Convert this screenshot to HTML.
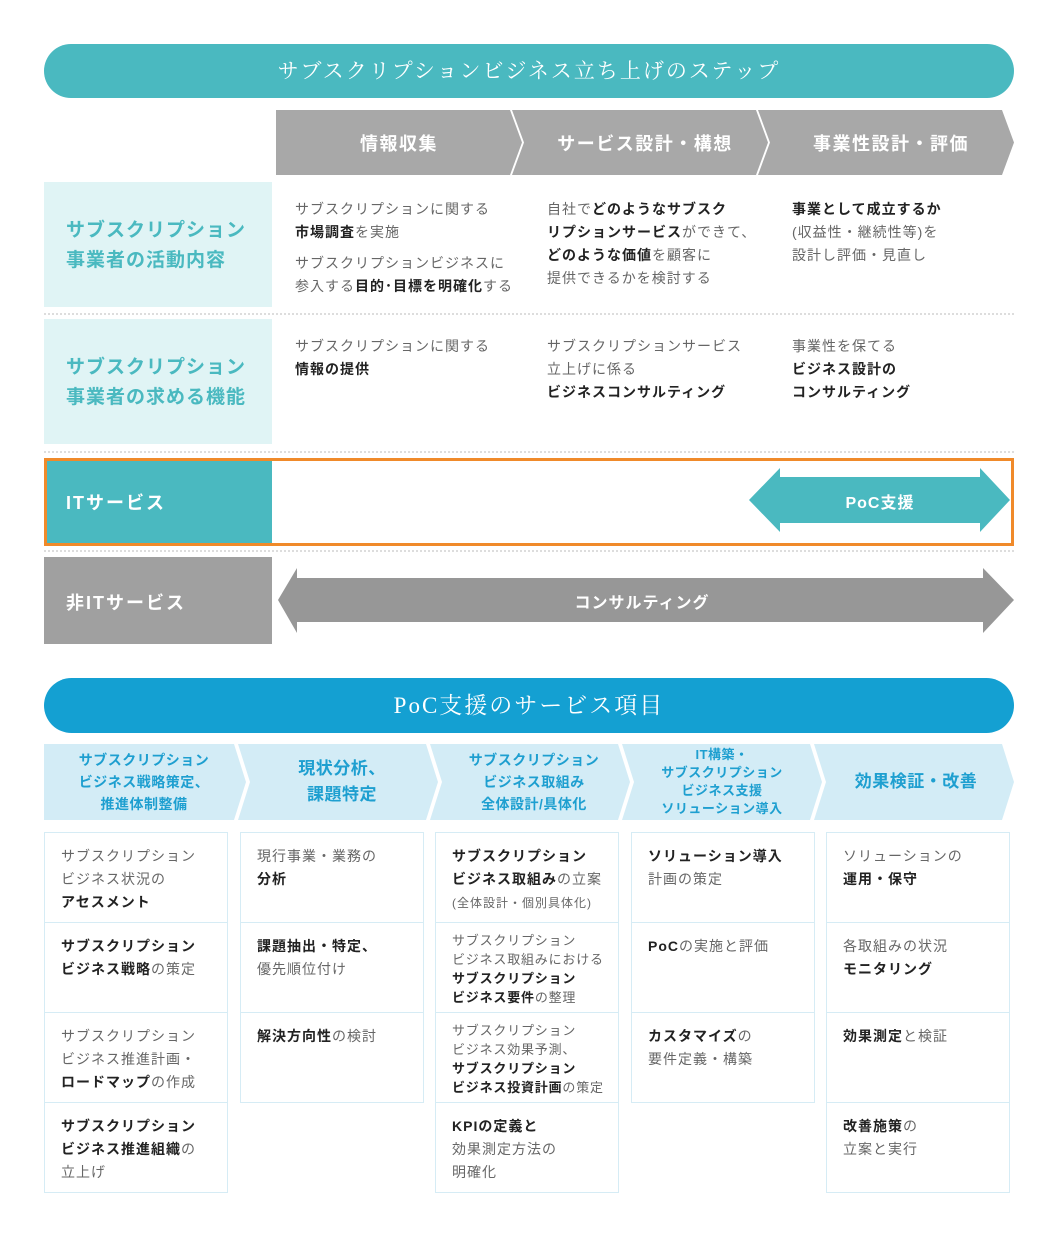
<!DOCTYPE html>
<html><head><meta charset="utf-8">
<style>
*{margin:0;padding:0;box-sizing:border-box}
body{width:1060px;height:1237px;background:#fff;position:relative;font-family:"Liberation Sans","Noto Sans CJK JP",sans-serif;color:#666;overflow:hidden}
.a{position:absolute}
.t{font-size:14px;line-height:23px;letter-spacing:1px;color:#666}
.t b{color:#222;font-weight:700}
.s{font-size:13px;line-height:19px;letter-spacing:.8px}
.card{position:absolute;border:1px solid #d6ecf5;background:#fff;padding:12px 0 0 16px;width:184px;height:91px}
.lab{position:absolute;font-weight:700;letter-spacing:2px}
.ch{position:absolute;color:#1e9fd0;font-weight:700;text-align:center;display:flex;align-items:center;justify-content:center;height:76px;top:744px;font-size:14px;line-height:22px;letter-spacing:.5px}
.dot{position:absolute;left:44px;width:970px;border-top:2px dotted #ddd}
</style></head><body>
<svg class="a" style="left:0;top:0" width="1060" height="1237">
<rect x="44" y="44" width="970" height="54" rx="27" fill="#4ab9c0"/>
<polygon points="276,110 510,110 522,142.5 510,175 276,175" fill="#a8a8a8"/>
<polygon points="512,110 756,110 768,142.5 756,175 512,175 524,142.5" fill="#a8a8a8"/>
<polygon points="758,110 1002,110 1014,142.5 1002,175 758,175 770,142.5" fill="#a8a8a8"/>
<rect x="44" y="182" width="228" height="125" fill="#e0f4f5"/>
<rect x="44" y="319" width="228" height="125" fill="#e0f4f5"/>
<rect x="45.5" y="459.5" width="967" height="85" fill="#fff" stroke="#f08a2a" stroke-width="3"/>
<rect x="47" y="461" width="225" height="82" fill="#4ab9c0"/>
<polygon points="749,500 780,468 780,477 980,477 980,468 1010,500 980,532 980,523 780,523 780,532" fill="#4ab9c0"/>
<rect x="44" y="557" width="228" height="87" fill="#a0a0a0"/>
<polygon points="278,600 297,568 297,578 983,578 983,568 1014,600 983,633 983,622 297,622 297,633" fill="#979797"/>
<rect x="44" y="678" width="970" height="55" rx="27.5" fill="#14a0d2"/>
<polygon points="44,744 234,744 246,782 234,820 44,820" fill="#d3ecf6"/>
<polygon points="238,744 426,744 438,782 426,820 238,820 250,782" fill="#d3ecf6"/>
<polygon points="430,744 618,744 630,782 618,820 430,820 442,782" fill="#d3ecf6"/>
<polygon points="622,744 810,744 822,782 810,820 622,820 634,782" fill="#d3ecf6"/>
<polygon points="814,744 1002,744 1014,782 1002,820 814,820 826,782" fill="#d3ecf6"/>
</svg>
<div class="dot" style="top:313px"></div>
<div class="dot" style="top:451px"></div>
<div class="dot" style="top:550px"></div>

<div class="a" style="left:44px;top:56px;width:970px;text-align:center;color:#fff;font-family:'Liberation Serif','Noto Serif CJK SC',serif;font-size:21px;letter-spacing:2px;line-height:30px">サブスクリプションビジネス立ち上げのステップ</div>
<div class="lab" style="left:276px;top:130px;width:246px;text-align:center;color:#fff;font-size:18px;letter-spacing:1.5px">情報収集</div>
<div class="lab" style="left:522px;top:130px;width:246px;text-align:center;color:#fff;font-size:18px;letter-spacing:1.5px">サービス設計・構想</div>
<div class="lab" style="left:768px;top:130px;width:246px;text-align:center;color:#fff;font-size:18px;letter-spacing:1.5px">事業性設計・評価</div>

<div class="lab" style="left:66px;top:216px;color:#4ab9c0;font-size:19px;line-height:30px;letter-spacing:1px">サブスクリプション<br>事業者の活動内容</div>
<div class="lab" style="left:66px;top:353px;color:#4ab9c0;font-size:19px;line-height:30px;letter-spacing:1px">サブスクリプション<br>事業者の求める機能</div>

<div class="a t" style="left:295px;top:198px">サブスクリプションに関する<br><b>市場調査</b>を実施</div>
<div class="a t" style="left:295px;top:252px">サブスクリプションビジネスに<br>参入する<b>目的･目標を明確化</b>する</div>
<div class="a t" style="left:547px;top:198px">自社で<b>どのようなサブスク<br>リプションサービス</b>ができて、<br><b>どのような価値</b>を顧客に<br>提供できるかを検討する</div>
<div class="a t" style="left:792px;top:198px"><b>事業として成立するか</b><br>(収益性・継続性等)を<br>設計し評価・見直し</div>

<div class="a t" style="left:295px;top:335px">サブスクリプションに関する<br><b>情報の提供</b></div>
<div class="a t" style="left:547px;top:335px">サブスクリプションサービス<br>立上げに係る<br><b>ビジネスコンサルティング</b></div>
<div class="a t" style="left:792px;top:335px">事業性を保てる<br><b>ビジネス設計の<br>コンサルティング</b></div>

<div class="lab" style="left:66px;top:489px;color:#fff;font-size:18px">ITサービス</div>
<div class="lab" style="left:780px;top:489px;width:200px;text-align:center;color:#fff;font-size:16px;letter-spacing:1px">PoC支援</div>
<div class="lab" style="left:66px;top:589px;color:#fff;font-size:18px">非ITサービス</div>
<div class="lab" style="left:297px;top:589px;width:690px;text-align:center;color:#fff;font-size:16px;letter-spacing:1px">コンサルティング</div>

<div class="a" style="left:44px;top:690px;width:970px;text-align:center;color:#fff;font-family:'Liberation Serif','Noto Serif CJK SC',serif;font-size:23px;letter-spacing:2px;line-height:32px">PoC支援のサービス項目</div>

<div class="ch" style="left:44px;width:200px">サブスクリプション<br>ビジネス戦略策定、<br>推進体制整備</div>
<div class="ch" style="left:244px;width:196px;font-size:17px;line-height:26px">現状分析、<br>課題特定</div>
<div class="ch" style="left:436px;width:196px">サブスクリプション<br>ビジネス取組み<br>全体設計/具体化</div>
<div class="ch" style="left:624px;width:196px;font-size:13px;line-height:18px">IT構築・<br>サブスクリプション<br>ビジネス支援<br>ソリューション導入</div>
<div class="ch" style="left:818px;width:196px;font-size:17px">効果検証・改善</div>

<div class="card t" style="left:44px;top:832px">サブスクリプション<br>ビジネス状況の<br><b>アセスメント</b></div>
<div class="card t" style="left:44px;top:922px"><b>サブスクリプション<br>ビジネス戦略</b>の策定</div>
<div class="card t" style="left:44px;top:1012px">サブスクリプション<br>ビジネス推進計画・<br><b>ロードマップ</b>の作成</div>
<div class="card t" style="left:44px;top:1102px"><b>サブスクリプション<br>ビジネス推進組織</b>の<br>立上げ</div>
<div class="card t" style="left:240px;top:832px">現行事業・業務の<br><b>分析</b></div>
<div class="card t" style="left:240px;top:922px"><b>課題抽出・特定、</b><br>優先順位付け</div>
<div class="card t" style="left:240px;top:1012px"><b>解決方向性</b>の検討</div>
<div class="card t" style="left:435px;top:832px"><b>サブスクリプション<br>ビジネス取組み</b>の立案<br><span style="font-size:12px">(全体設計・個別具体化)</span></div>
<div class="card t s" style="left:435px;top:922px;padding-top:8px">サブスクリプション<br>ビジネス取組みにおける<br><b>サブスクリプション<br>ビジネス要件</b>の整理</div>
<div class="card t s" style="left:435px;top:1012px;padding-top:8px">サブスクリプション<br>ビジネス効果予測、<br><b>サブスクリプション<br>ビジネス投資計画</b>の策定</div>
<div class="card t" style="left:435px;top:1102px"><b>KPIの定義と</b><br>効果測定方法の<br>明確化</div>
<div class="card t" style="left:631px;top:832px"><b>ソリューション導入</b><br>計画の策定</div>
<div class="card t" style="left:631px;top:922px"><b>PoC</b>の実施と評価</div>
<div class="card t" style="left:631px;top:1012px"><b>カスタマイズ</b>の<br>要件定義・構築</div>
<div class="card t" style="left:826px;top:832px">ソリューションの<br><b>運用・保守</b></div>
<div class="card t" style="left:826px;top:922px">各取組みの状況<br><b>モニタリング</b></div>
<div class="card t" style="left:826px;top:1012px"><b>効果測定</b>と検証</div>
<div class="card t" style="left:826px;top:1102px"><b>改善施策</b>の<br>立案と実行</div>
</body></html>
